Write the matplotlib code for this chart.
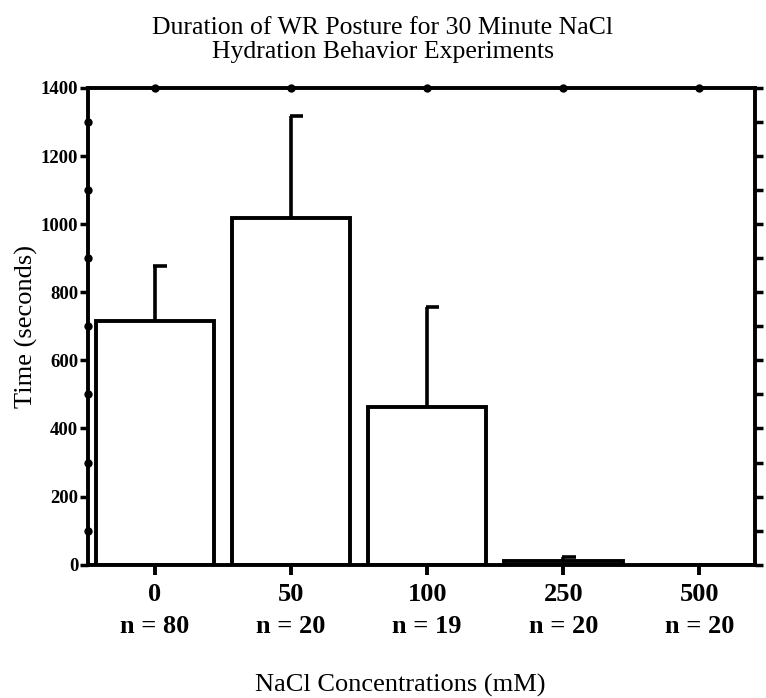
import numpy as np
import matplotlib
matplotlib.use('Agg')
import matplotlib.pyplot as plt
from matplotlib.ticker import MultipleLocator

# data
concentrations = ['0', '50', '100', '250', '500']
sample_sizes = [80, 20, 19, 20, 20]
mean_time = [716, 1018, 464, 10, 0]
sem_time = [160, 300, 292, 12, 0]

plt.rcParams['font.family'] = ['Liberation Serif', 'DejaVu Serif']

fig = plt.figure(figsize=(7.66, 6.98), dpi=100)
ax = fig.add_axes([0.115, 0.191, 0.871, 0.683])

x = np.arange(len(concentrations))
width = 0.87
ax.bar(x, mean_time, width=width, color='white', edgecolor='black', linewidth=2.8, zorder=2)

# error bars with half caps (to the right only)
err_top = np.array(mean_time) + np.array(sem_time)
has_err = np.array(sem_time) > 0
ax.vlines(x[has_err], np.array(mean_time)[has_err], err_top[has_err], color='black', linewidth=2.6, zorder=3)
ax.hlines(err_top[has_err], x[has_err] - 0.01, x[has_err] + 0.09, color='black', linewidth=2.6, zorder=3)

ax.set_xlim(-0.49, 4.41)
ax.set_ylim(0, 1400)

for side in ['left', 'right', 'top', 'bottom']:
    ax.spines[side].set_linewidth(2.8)

ax.yaxis.set_major_locator(MultipleLocator(200))
ax.yaxis.set_minor_locator(MultipleLocator(100))
ax.tick_params(axis='y', which='major', direction='out', length=6, width=2.5, labelsize=13.5, right=True, pad=1)
ax.tick_params(axis='y', which='minor', direction='out', length=6, width=2.5, right=True)
ax.tick_params(axis='x', which='major', direction='out', length=7, width=2.8, top=True)
for lab in ax.get_yticklabels():
    lab.set_fontweight('bold')

ax.set_xticks(x)
ax.set_xticklabels([f'{c}\nn = {n}' for c, n in zip(concentrations, sample_sizes)],
                   fontsize=19, fontweight='bold', linespacing=1.5)
ax.tick_params(axis='x', pad=6)

# top spine: dots instead of ticks; left minor ticks: dots
for t in ax.xaxis.get_major_ticks():
    t.tick2line.set_marker('o')
    t.tick2line.set_markersize(6)
    t.tick2line.set_markeredgewidth(0)
for t in ax.yaxis.get_minor_ticks():
    t.tick1line.set_marker('o')
    t.tick1line.set_markersize(6)
    t.tick1line.set_markeredgewidth(0)

ax.set_ylabel('Time (seconds)', fontsize=19, labelpad=2)
ax.set_xlabel('NaCl Concentrations (mM)', fontsize=19)
ax.xaxis.set_label_coords(0.468, -0.229)
fig.suptitle('Duration of WR Posture for 30 Minute NaCl\nHydration Behavior Experiments',
             x=0.5, y=0.975, fontsize=18.5, linespacing=1.1)

plt.savefig('out.png', dpi=100)
